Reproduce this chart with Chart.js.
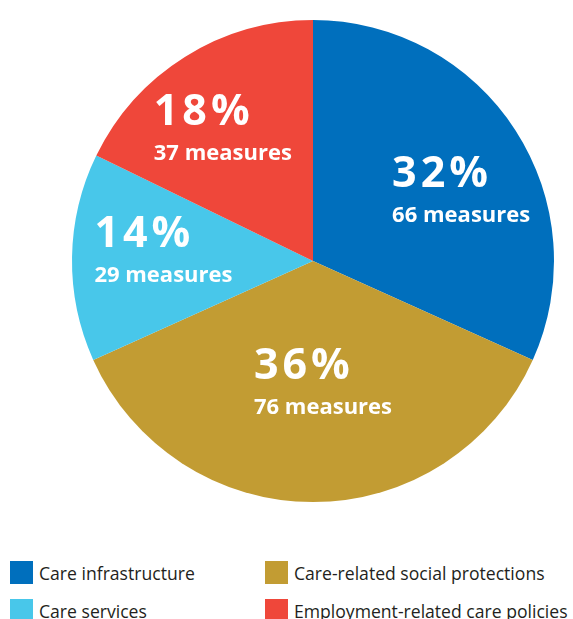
<!DOCTYPE html>
<html>
<head>
<meta charset="utf-8">
<script src="https://cdn.jsdelivr.net/npm/chart.js@4/dist/chart.umd.min.js"></script>
<style>
  html, body { margin: 0; padding: 0; background: #fff; }
  body { width: 573px; height: 619px; position: relative; overflow: hidden; font-family: "Open Sans", sans-serif; }
  #pie { position: absolute; left: 0; top: 0; }
  .legend { position: absolute; left: 0; top: 561px; width: 573px; }
  .item { position: absolute; display: flex; align-items: center; height: 23px; font-size: 17.6px; color: #231f20; white-space: nowrap; }
  .item i { display: inline-block; width: 23px; height: 23px; margin-right: 6px; }
</style>
</head>
<body>
<canvas id="pie" width="573" height="525"></canvas>
<div class="legend" id="legend"></div>
<script>
// === DATA ===
const kategori = ["Care infrastructure", "Care-related social protections", "Care services", "Employment-related care policies"];
const jumlahLangkah = [66, 76, 29, 37];
const labelPersen = ["32%", "36%", "14%", "18%"];
const warna = ["#006fbd", "#c29c33", "#48c7ea", "#ef473a"];

// posisi label: sudut dari atas (derajat) dan fraksi radius
const sudutLabel = [64.7, 175.3, 273.8, 325.7];
const jarakLabel = [0.68, 0.506, 0.622, 0.664];

// === LABEL DI DALAM IRISAN ===
const labelIrisan = {
  id: "labelIrisan",
  afterDatasetsDraw(chart) {
    const ctx = chart.ctx;
    const arc = chart.getDatasetMeta(0).data[0];
    const cx = arc.x, cy = arc.y, r = arc.outerRadius;
    ctx.save();
    ctx.fillStyle = "#fff";
    ctx.textAlign = "left";
    ctx.textBaseline = "alphabetic";
    jumlahLangkah.forEach(function (n, i) {
      const a = sudutLabel[i] * Math.PI / 180;
      const x = cx + Math.sin(a) * r * jarakLabel[i];
      const y = cy - Math.cos(a) * r * jarakLabel[i];
      const teks = n + " measures";
      ctx.letterSpacing = "0px";
      ctx.font = "bold 22px 'Open Sans'";
      const lebar = ctx.measureText(teks).width;
      const kiri = x - lebar / 2;
      ctx.fillText(teks, kiri, y + 31);
      ctx.font = "bold 43px 'Open Sans'";
      ctx.letterSpacing = "4px";
      ctx.fillText(labelPersen[i], kiri, y - 4);
    });
    ctx.restore();
  }
};

new Chart(document.getElementById("pie"), {
  type: "pie",
  data: {
    labels: kategori,
    datasets: [{
      data: jumlahLangkah,
      backgroundColor: warna,
      borderWidth: 0
    }]
  },
  options: {
    responsive: false,
    animation: false,
    layout: { padding: { left: 72, right: 19, top: 20, bottom: 23 } },
    plugins: {
      legend: { display: false },
      tooltip: { enabled: false }
    }
  },
  plugins: [labelIrisan]
});

// === LEGENDA ===
const kolomX = [10, 265];
const barisY = [0, 38];
const legend = document.getElementById("legend");
kategori.forEach(function (nama, i) {
  const el = document.createElement("div");
  el.className = "item";
  el.style.left = kolomX[i % 2] + "px";
  el.style.top = barisY[Math.floor(i / 2)] + "px";
  el.innerHTML = '<i style="background:' + warna[i] + '"></i>' + nama;
  legend.appendChild(el);
});
</script>
</body>
</html>
